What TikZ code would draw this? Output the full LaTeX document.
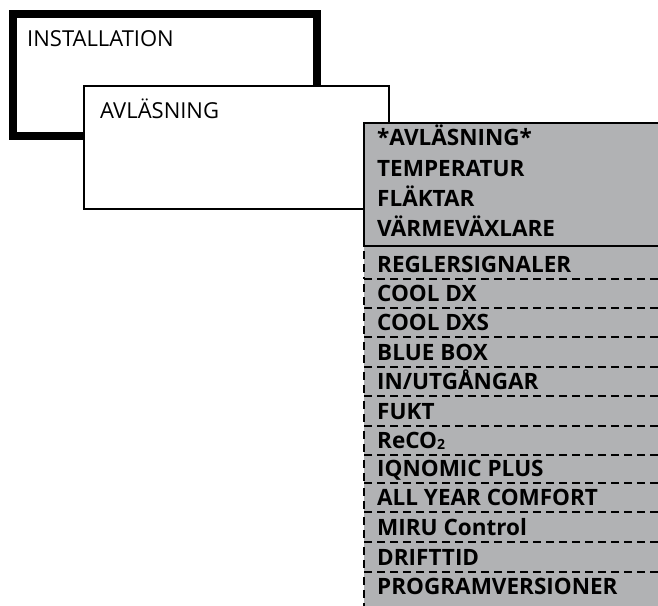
\documentclass[tikz,border=0pt]{standalone}
\usepackage{fontspec}
\setmainfont{Open Sans}
\definecolor{panelgray}{RGB}{177,178,180}
\begin{document}
\begin{tikzpicture}[x=1pt,y=-1pt,
  lbl/.style={anchor=base west, inner sep=0pt, font=\fontsize{22.5}{22.5}\selectfont\bfseries},
  ttl/.style={anchor=base west, inner sep=0pt, font=\fontsize{22}{22}\selectfont},
  winbox/.style={draw, fill=white, anchor=north west, inner sep=0pt, outer sep=0pt},
  solidpanel/.style={draw, line width=2.2pt, fill=panelgray, anchor=north west, inner sep=0pt, outer sep=0pt, minimum width=320pt},
  rowfill/.style={fill=panelgray, anchor=north west, inner sep=0pt, outer sep=0pt, minimum width=320pt},
  rowdash/.style={line width=2.6pt, dash pattern=on 8pt off 5pt}]
\useasboundingbox (0,0) rectangle (658,605);
\begin{scope}
\clip (0,0) rectangle (658,605);
\node[winbox, line width=8pt, minimum width=304pt, minimum height=122pt] (instbox) at (13,14) {};
\node[ttl] (inst) at (27,46) {INSTALLATION};
\node[winbox, line width=2.2pt, minimum width=305pt, minimum height=123pt] (avlbox) at (84,86) {};
\node[ttl] (avl) at (100,118) {AVLÄSNING};
\node[solidpanel, minimum height=123pt] (top) at (364,123) {};
\node[lbl] (h1) at (377,145) {*AVLÄSNING*};
\node[lbl] (h2) at (377,176) {TEMPERATUR};
\node[lbl] (h3) at (377,206) {FLÄKTAR};
\node[lbl] (h4) at (377,236) {VÄRMEVÄXLARE};
\foreach \i/\t/\b in {1/246/279, 2/279/308, 3/308/337, 4/337/367, 5/367/396, 6/396/426,
  7/426/455, 8/455/483, 9/483/512, 10/512/542, 11/542/572, 12/572/601}{
  \pgfmathsetmacro{\hh}{(\i==12) ? 60 : (\b-\t)}
  \node[rowfill, minimum height=\hh pt] (r\i) at (364,\t) {};
}
\foreach \i in {1,...,12}{
  \draw[rowdash] (r\i.north east) -- (r\i.north west) -- (r\i.south west);
}
\foreach \i/\b/\txt in {
  1/279/REGLERSIGNALER,
  2/308/COOL DX,
  3/337/COOL DXS,
  4/367/BLUE BOX,
  5/396/{IN/UTGÅNGAR},
  6/426/FUKT,
  7/455/{ReCO{\raisebox{-1pt}{\fontsize{14}{14}\selectfont 2}}},
  8/483/IQNOMIC PLUS,
  9/512/ALL YEAR COMFORT,
  10/542/MIRU Control,
  11/572/DRIFTTID,
  12/601/PROGRAMVERSIONER}{
  \node[lbl] (t\i) at (377,\b-6.5) {\txt};
}
\draw[line width=2.2pt] (top.south west) -- (top.south east);
\end{scope}
\end{tikzpicture}
\end{document}
